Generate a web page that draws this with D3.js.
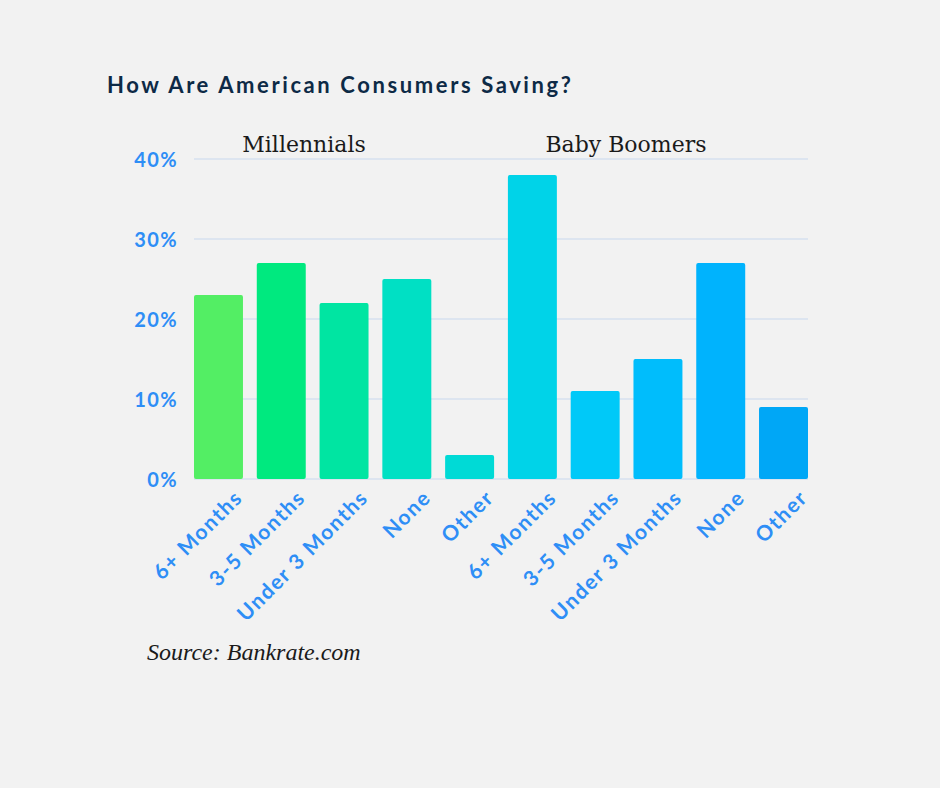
<!DOCTYPE html>
<html>
<head>
<meta charset="utf-8">
<script src="https://cdn.jsdelivr.net/npm/d3@7"></script>
<style>
  html, body { margin: 0; padding: 0; background: #f2f2f2; }
  svg { display: block; }
  .title { font-family: Lato, sans-serif; font-weight: 700; font-size: 22px; letter-spacing: 2.6px; fill: #0d2a46; }
  .group-label { font-family: "DejaVu Serif", serif; font-size: 22px; fill: #1a1a1a; }
  .source { font-family: "Liberation Serif", serif; font-style: italic; font-size: 24px; fill: #1a1a1a; }
  .axis text { font-family: Lato, sans-serif; font-weight: 700; font-size: 20px; letter-spacing: 1.4px; fill: #2e8ef6; }
  .x-labels text { font-size: 21px; letter-spacing: 1.6px; }
  .grid line { stroke: #c8d7ee; stroke-width: 1.2; }
</style>
</head>
<body>
<script>
// chart data
var groups = ["Millennials", "Baby Boomers"];
var categories = ["6+ Months", "3-5 Months", "Under 3 Months", "None", "Other"];
var millennials = [23, 27, 22, 25, 3];
var boomers = [38, 11, 15, 27, 9];
var yTicks = [0, 10, 20, 30, 40];
var barColors = ["#53ee64", "#00e97f", "#00e5a2", "#00e0c4", "#00dad6",
                 "#00d3e8", "#00c9f8", "#00bdfc", "#00b3fd", "#00a7f6"];

var WIDTH = 940, HEIGHT = 788;
var margin = {top: 159, left: 194, right: 132, bottom: 309};
var plotW = WIDTH - margin.left - margin.right;
var plotH = HEIGHT - margin.top - margin.bottom;
var GROUP_LABEL_SHIFT = [-40, -32];

var bars = [];
millennials.forEach(function(v, i) { bars.push({group: 0, label: categories[i], value: v}); });
boomers.forEach(function(v, i) { bars.push({group: 1, label: categories[i], value: v}); });
bars.forEach(function(d, i) { d.key = i; });

var svg = d3.select("body").append("svg")
    .attr("width", WIDTH)
    .attr("height", HEIGHT);

svg.append("rect")
    .attr("width", WIDTH)
    .attr("height", HEIGHT)
    .attr("fill", "#f2f2f2");

svg.append("text")
    .classed("title", true)
    .attr("x", 107)
    .attr("y", 93)
    .text("How Are American Consumers Saving?");

var g = svg.append("g")
    .attr("transform", "translate(" + margin.left + "," + margin.top + ")");

var x = d3.scaleBand()
    .domain(bars.map(function(d) { return d.key; }))
    .range([0, plotW])
    .paddingInner(0.22)
    .paddingOuter(0);

var y = d3.scaleLinear()
    .domain([0, 40])
    .range([plotH, 0]);

// gridlines
g.append("g")
    .classed("grid", true)
    .selectAll("line")
    .data(yTicks)
    .enter()
    .append("line")
    .attr("x1", 0)
    .attr("x2", plotW)
    .attr("y1", function(d) { return y(d); })
    .attr("y2", function(d) { return y(d); });

// y axis labels
var yAxis = g.append("g")
    .classed("axis", true)
    .call(d3.axisLeft(y)
        .tickValues(yTicks)
        .tickSize(0)
        .tickPadding(16)
        .tickFormat(function(d) { return d + "%"; }));
yAxis.select(".domain").remove();
yAxis.selectAll("text").attr("dy", "0.36em");

// bars
g.selectAll(".bar")
    .data(bars)
    .enter()
    .append("rect")
    .classed("bar", true)
    .attr("x", function(d) { return x(d.key); })
    .attr("y", function(d) { return y(d.value); })
    .attr("width", x.bandwidth())
    .attr("height", function(d) { return plotH - y(d.value); })
    .attr("rx", 2)
    .attr("fill", function(d, i) { return barColors[i]; });

// x axis labels, rotated
var xAxis = g.append("g")
    .classed("axis x-labels", true)
    .attr("transform", "translate(0," + plotH + ")")
    .call(d3.axisBottom(x)
        .tickSize(0)
        .tickFormat(function(k) { return bars[k].label; }));
xAxis.select(".domain").remove();
xAxis.selectAll("text")
    .attr("text-anchor", "end")
    .attr("dy", null)
    .attr("y", 0)
    .attr("transform", "translate(" + (x.bandwidth() / 2 + 1) + ",20) rotate(-45)");

// group headings
groups.forEach(function(name, gi) {
    var first = x(gi * categories.length);
    var last = x(gi * categories.length + categories.length - 1) + x.bandwidth();
    g.append("text")
        .classed("group-label", true)
        .attr("text-anchor", "middle")
        .attr("x", (first + last) / 2 + GROUP_LABEL_SHIFT[gi])
        .attr("y", -7)
        .text(name);
});

svg.append("text")
    .classed("source", true)
    .attr("x", 147)
    .attr("y", 660)
    .text("Source: Bankrate.com");
</script>
</body>
</html>
